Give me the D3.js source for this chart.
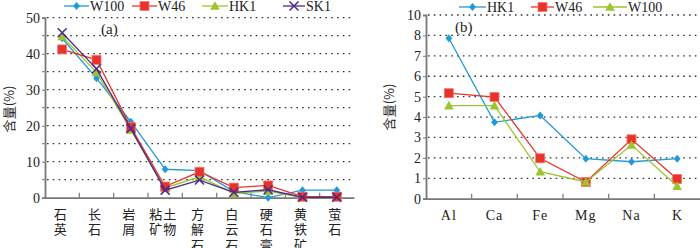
<!DOCTYPE html>
<html><head><meta charset="utf-8">
<script src="https://cdn.jsdelivr.net/npm/d3@7"></script>
<style>
body{margin:0;background:#fff;}
svg{display:block;}
text{font-family:"Liberation Serif","Times New Roman",serif;fill:#222;}
.cjk{font-family:"Noto Sans CJK SC","Noto Sans CJK JP",sans-serif;}
</style></head><body>
<svg id="c" width="700" height="248"></svg>
<script>
// ---- data: panel (a) minerals ----
const catsA = ["石英","长石","岩屑","粘土矿物","方解石","白云石","硬石膏","黄铁矿","萤石"];
const catLinesA = [["石","英"],["长","石"],["岩","屑"],["粘土","矿物"],["方","解","石"],["白","云","石"],["硬","石","膏"],["黄","铁","矿"],["萤","石"]];
const aW100 = [44.3, 33.2, 21.1, 7.9, 7.5, 1.7, 0.0, 2.1, 2.1];
const aW46  = [41.2, 38.3, 19.6, 3.1, 7.2, 2.8, 3.4, 0.3, 0.3];
const aHK1  = [44.8, 34.8, 18.8, 2.7, 5.8, 1.2, 1.8, 0.0, 0.0];
const aSK1  = [45.8, 35.8, 19.2, 2.1, 4.9, 1.5, 2.2, 0.1, 0.1];
const yTicksA = [0,10,20,30,40,50];
// ---- data: panel (b) elements ----
const catsB = ["Al","Ca","Fe","Mg","Na","K"];
const bHK1  = [7.86, 3.74, 4.08, 1.96, 1.81, 1.96];
const bW46  = [5.17, 4.98, 1.98, 0.82, 2.91, 0.97];
const bW100 = [4.56, 4.56, 1.32, 0.82, 2.63, 0.62];
const yTickValsB = [0,1,2,3,4,5,6,7,8,9];
const yTickLabelsB = ["0","1","2","3","4","5","6","7","8","10"];

const C = {blue:"#1f9ad8", red:"#e8322b", green:"#9dc42c", purple:"#4b2b8a"};
const svg = d3.select("#c");

function marker(g, type, color, x, y, s){
  if(type==="diamond"){
    g.append("path").attr("d",`M${x},${y-s}L${x+s*0.85},${y}L${x},${y+s}L${x-s*0.85},${y}Z`).attr("fill",color);
  } else if(type==="square"){
    g.append("rect").attr("x",x-s).attr("y",y-s).attr("width",2*s).attr("height",2*s).attr("fill",color).attr("stroke","#f07a6e").attr("stroke-width",0.8);
  } else if(type==="triangle"){
    g.append("path").attr("d",`M${x},${y-s}L${x+s},${y+s*0.8}L${x-s},${y+s*0.8}Z`).attr("fill",color);
  } else if(type==="x"){
    g.append("path").attr("d",`M${x-s},${y-s}L${x+s},${y+s}M${x-s},${y+s}L${x+s},${y-s}`).attr("stroke",color).attr("stroke-width",1.5).attr("fill","none");
  }
}
const msize = {diamond:4, square:4.5, triangle:4.8, x:4.5};

function panel(opt){
  const g = svg.append("g");
  const x = d3.scaleBand().domain(opt.cats).range([opt.x0,opt.x1]);
  const y = d3.scaleLinear().domain(opt.ydom).range([opt.yb,opt.yt]);
  // grid
  g.append("g").selectAll("line").data(opt.grid).join("line")
    .attr("x1",opt.x0+2).attr("x2",opt.x1).attr("y1",d=>y(d)).attr("y2",d=>y(d))
    .attr("stroke","#333").attr("stroke-width",1.3).attr("stroke-dasharray","1.6,4.2");
  // y axis
  const ya = d3.axisLeft(y).tickValues(opt.yticks).tickSize(3).tickFormat(opt.yfmt);
  const yg = g.append("g").attr("transform",`translate(${opt.x0},0)`).call(ya);
  yg.select(".domain").attr("stroke","#777").attr("stroke-width",1.8);
  yg.selectAll(".tick line").attr("stroke","#777");
  yg.selectAll(".tick text").attr("font-size",14).attr("font-family","Liberation Serif").attr("fill","#222").attr("x",-5);
  if(opt.minor){
    g.append("g").selectAll("line").data(opt.minor).join("line")
      .attr("x1",opt.x0-3).attr("x2",opt.x0).attr("y1",d=>y(d)).attr("y2",d=>y(d)).attr("stroke","#777");
  }
  // x axis
  const xa = d3.axisBottom(x).tickSize(0).tickFormat("");
  const xg = g.append("g").attr("transform",`translate(0,${opt.yb})`).call(xa);
  xg.select(".domain").attr("stroke","#777").attr("stroke-width",1.8);
  const bounds = opt.cats.map(c=>x(c)+x.bandwidth()).slice(0,-1);
  g.append("g").selectAll("line").data(bounds).join("line")
    .attr("x1",d=>d).attr("x2",d=>d).attr("y1",opt.yb).attr("y2",opt.yb-5).attr("stroke","#777").attr("stroke-width",1.2);
  // category labels
  opt.cats.forEach((c,i)=>{
    const lines = opt.catLines ? opt.catLines[i] : [c];
    const t = g.append("text").attr("x",x(c)+x.bandwidth()/2+opt.lxoff).attr("y",opt.yb+21)
      .attr("text-anchor","middle").attr("font-size",opt.catLines?13:14)
      .attr("class",opt.catLines?"cjk":null);
    lines.forEach((l,j)=>{
      t.append("tspan").attr("x",x(c)+x.bandwidth()/2+opt.lxoff).attr("dy",j===0?0:15.5).text(l)
       .attr("letter-spacing",l.length>1?"1px":null);
    });
  });
  // y label
  g.append("text").attr("class","cjk").attr("transform",`translate(${opt.ylx},${opt.yly}) rotate(-90)`)
    .attr("text-anchor","middle").attr("font-size",13).text("含量(%)");
  // panel letter
  g.append("text").attr("x",opt.px).attr("y",opt.py).attr("font-size",15).text(opt.ptxt);
  // series
  opt.series.forEach(s=>{
    const line = d3.line().x((d,i)=>x(opt.cats[i])+x.bandwidth()/2).y(d=>y(d));
    g.append("path").attr("d",line(s.v)).attr("fill","none").attr("stroke",s.c).attr("stroke-width",1.3);
    s.v.forEach((d,i)=>marker(g,s.m,s.c,x(opt.cats[i])+x.bandwidth()/2,y(d),msize[s.m]));
  });
  // legend
  opt.legend.forEach(l=>{
    const s = opt.series.find(q=>q.n===l.n);
    g.append("line").attr("x1",l.x1).attr("x2",l.x2).attr("y1",opt.ly).attr("y2",opt.ly).attr("stroke",s.c).attr("stroke-width",1.3);
    marker(g,s.m,s.c,(l.x1+l.x2)/2,opt.ly,msize[s.m]);
    g.append("text").attr("x",l.x2+1).attr("y",opt.ly+4.5).attr("font-size",14).text(s.n);
  });
}

panel({
  cats:catsA, catLines:catLinesA, x0:45, x1:354, yb:197.7, yt:17.7, ydom:[0,50],
  grid:[5,10,15,20,25,30,35,40,45,50], yticks:yTicksA, yfmt:d3.format("d"),
  minor:[5,15,25,35,45], lxoff:-2, ylx:14, yly:109, px:101, py:34, ptxt:"(a)",
  series:[
    {n:"W100",v:aW100,c:C.blue,m:"diamond"},
    {n:"HK1",v:aHK1,c:C.green,m:"triangle"},
    {n:"W46",v:aW46,c:C.red,m:"square"},
    {n:"SK1",v:aSK1,c:C.purple,m:"x"}
  ],
  ly:6,
  legend:[{n:"W100",x1:64,x2:89},{n:"W46",x1:132,x2:157},{n:"HK1",x1:202,x2:228},{n:"SK1",x1:283,x2:305}]
});

panel({
  cats:catsB, catLines:null, x0:426, x1:700, yb:198.7, yt:15, ydom:[0,9],
  grid:[1,2,3,4,5,6,7,8,9], yticks:yTickValsB, yfmt:(d,i)=>yTickLabelsB[i],
  minor:null, lxoff:0, ylx:394, yly:107, px:455, py:32, ptxt:"(b)",
  series:[
    {n:"HK1",v:bHK1,c:C.blue,m:"diamond"},
    {n:"W46",v:bW46,c:C.red,m:"square"},
    {n:"W100",v:bW100,c:C.green,m:"triangle"}
  ],
  ly:7,
  legend:[{n:"HK1",x1:459,x2:486},{n:"W46",x1:531,x2:554},{n:"W100",x1:593,x2:627}]
});
</script></body></html>
